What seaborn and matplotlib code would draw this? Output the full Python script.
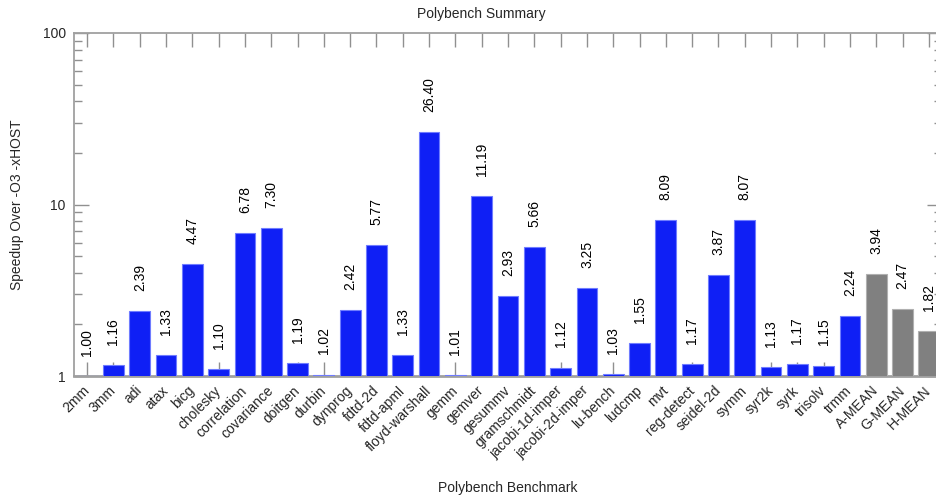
import pandas as pd
import seaborn as sns
import matplotlib.pyplot as plt
from matplotlib.ticker import FuncFormatter, LogLocator

# benchmark names and speedups
benchmarks = ['2mm', '3mm', 'adi', 'atax', 'bicg', 'cholesky', 'correlation', 'covariance',
              'doitgen', 'durbin', 'dynprog', 'fdtd-2d', 'fdtd-apml', 'floyd-warshall', 'gemm',
              'gemver', 'gesummv', 'gramschmidt', 'jacobi-1d-imper', 'jacobi-2d-imper', 'lu-bench',
              'ludcmp', 'mvt', 'reg-detect', 'seidel-2d', 'symm', 'syr2k', 'syrk', 'trisolv', 'trmm']
speedups = [1.00, 1.16, 2.39, 1.33, 4.47, 1.10, 6.78, 7.30, 1.19, 1.02, 2.42, 5.77, 1.33, 26.40,
            1.01, 11.19, 2.93, 5.66, 1.12, 3.25, 1.03, 1.55, 8.09, 1.17, 3.87, 8.07, 1.13, 1.17,
            1.15, 2.24]
mean_names = ['A-MEAN', 'G-MEAN', 'H-MEAN']
mean_values = [3.94, 2.47, 1.82]

df = pd.DataFrame({'bench': benchmarks + mean_names,
                   'speedup': speedups + mean_values,
                   'kind': ['bench'] * len(benchmarks) + ['mean'] * len(mean_names)})

sns.set_style('ticks')
plt.rcParams['font.family'] = ['Liberation Sans', 'DejaVu Sans']
plt.rcParams['font.size'] = 10

fig = plt.figure(figsize=(9.36, 4.97), dpi=100)
# axes runs a little past the right edge, like the cropped original
ax = fig.add_axes([74 / 936, 1 - 376 / 497, 868 / 936, 343 / 497])

blue, gray = '#0f1ff5', '#808080'
palette = {b: (gray if k == 'mean' else blue) for b, k in zip(df['bench'], df['kind'])}
sns.barplot(data=df, x='bench', y='speedup', hue='bench', palette=palette, legend=False,
            width=0.79, ax=ax, saturation=1)

for patch, kind in zip(ax.patches, df['kind']):
    patch.set_edgecolor('#b0b0b0' if kind == 'mean' else '#6f7cff')
    patch.set_linewidth(0.8)
    patch.set_zorder(3)

ax.set_yscale('log')
ax.set_ylim(1, 100)
ax.set_xlim(-0.5, len(df) - 0.5)
ax.yaxis.set_major_locator(LogLocator(base=10))
ax.yaxis.set_minor_locator(LogLocator(base=10, subs=range(2, 10)))
ax.yaxis.set_major_formatter(FuncFormatter(lambda v, p: f'{v:g}'))
ax.yaxis.set_minor_formatter(FuncFormatter(lambda v, p: ''))

for i, v in enumerate(df['speedup']):
    ax.annotate(f'{v:.2f}', (i, v), xytext=(0, 14.5), textcoords='offset points',
                rotation=90, ha='center', va='bottom', fontsize=10, color='black')

ax.set_xticks(range(len(df)))
ax.set_xticklabels(df['bench'], rotation=45, ha='right', va='center', rotation_mode='anchor')
ax.tick_params(axis='x', which='major', direction='in', length=10, top=True, bottom=True,
               color='#909090', width=1, pad=9, labelsize=10)
ax.tick_params(axis='y', which='major', direction='in', length=11, left=True, right=True,
               color='#909090', width=1, pad=6, labelsize=10)
ax.tick_params(axis='y', which='minor', direction='in', length=6, left=True, right=True,
               color='#909090', width=1)
for s in ax.spines.values():
    s.set_color('#a0a0a0')
    s.set_linewidth(1.3)
ax.spines['bottom'].set_linewidth(2)

ax.set_xlabel('Polybench Benchmark', fontsize=10)
ax.xaxis.set_label_coords(0.5, -0.305)
ax.set_ylabel('Speedup Over -O3 -xHOST', fontsize=10)
ax.yaxis.set_label_coords(-0.058, 0.5)
fig.text(481 / 936, 1 - 14 / 497, 'Polybench Summary', ha='center', va='center', fontsize=10)

plt.savefig('out.png', dpi=100)
plt.close()
